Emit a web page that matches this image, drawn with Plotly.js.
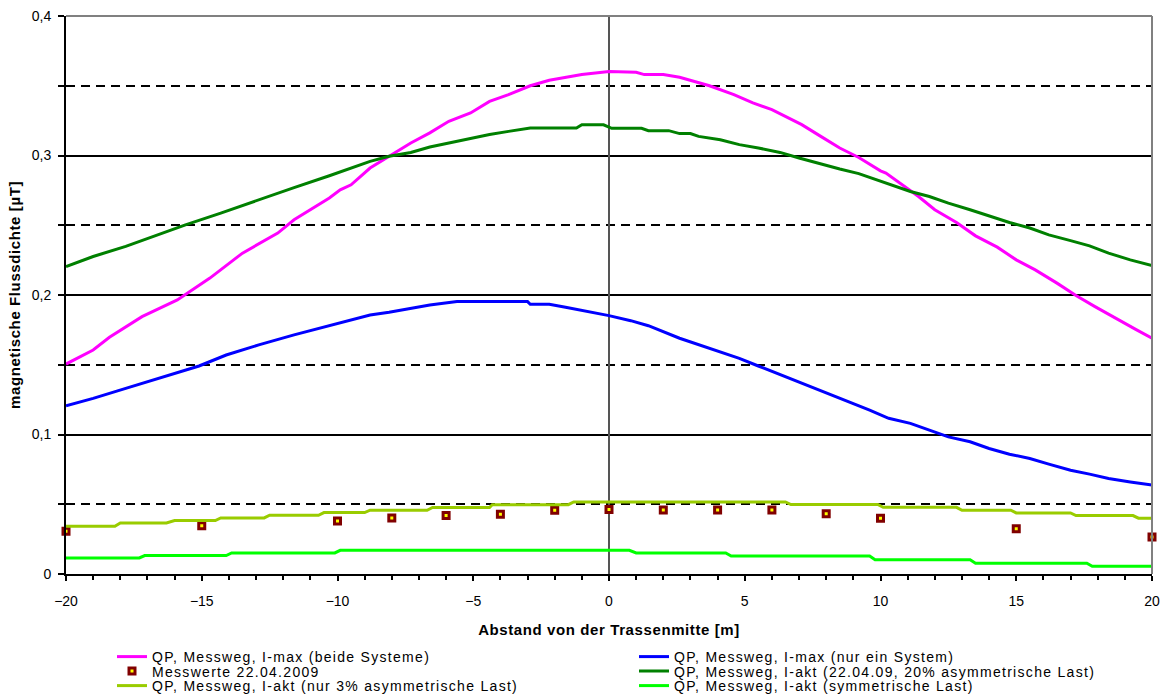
<!DOCTYPE html>
<html><head><meta charset="utf-8">
<script src="https://cdn.plot.ly/plotly-3.0.1.min.js"></script>
<style>
html,body{margin:0;padding:0;background:#fff;}
#chart{width:1170px;height:698px;}
</style></head><body><div id="chart"></div>
<script>
// Magenta: QP, Messweg, I-max (beide Systeme)
var xMagenta = [-20,-19,-18.4,-17.2,-15.9,-14.7,-13.5,-12.2,-11.6,-11,-10.3,-9.9,-9.5,-8.8,-8.1,-7.3,-6.6,-5.9,-5.1,-4.4,-3.7,-2.9,-2.2,-1.5,-1,0,1,1.3,2,2.6,3,3.7,4.6,5.3,6,6.7,7.1,7.8,8.5,9.2,9.6,10,10.2,10.8,11.4,12,12.8,13.5,14.3,15,15.7,16.5,17.2,17.9,18.7,19.4,20];
var yMagenta = [0.1505,0.1606,0.1697,0.1845,0.1965,0.2121,0.230,0.2444,0.2539,0.2611,0.2695,0.2754,0.279,0.291,0.2994,0.309,0.3162,0.3245,0.3305,0.3388,0.3437,0.350,0.3539,0.3563,0.358,0.3602,0.3597,0.358,0.358,0.3561,0.354,0.350,0.3437,0.3377,0.3329,0.3257,0.3221,0.3137,0.3054,0.2986,0.294,0.289,0.2874,0.279,0.2706,0.2611,0.252,0.2424,0.2343,0.2252,0.218,0.2085,0.1996,0.1917,0.1833,0.1754,0.169];

// Blue: QP, Messweg, I-max (nur ein System)
var xBlue = [-20,-19,-17.8,-16.5,-15.1,-14.1,-12.9,-11.6,-10.3,-9.5,-8.8,-8.1,-7.3,-6.6,-5.6,-3.0,-2.9,-2.2,-1.6,-0.6,0,0.8,1.45,2.6,3.7,4.8,5.5,6.5,7.6,8.5,9.6,10.3,11.1,11.8,12.5,13.3,14,14.75,15.5,16.2,17,17.7,18.4,19.2,20];
var yBlue = [0.1206,0.1259,0.1331,0.141,0.1491,0.157,0.1642,0.1714,0.178,0.1816,0.1857,0.1876,0.1905,0.1929,0.1953,0.1953,0.1934,0.1934,0.1912,0.1876,0.1852,0.1816,0.178,0.169,0.1618,0.1546,0.1491,0.1414,0.1331,0.126,0.1175,0.1116,0.108,0.1032,0.0983,0.0948,0.09,0.0859,0.0828,0.0788,0.0744,0.0716,0.0685,0.066,0.0637];

// Measured values 22.04.2009
var xMess = [-20,-15,-10,-8,-6,-4,-2,0,2,4,6,8,10,15,20];
var yMess = [0.0307,0.0345,0.038,0.0402,0.0419,0.0429,0.0457,0.0462,0.0459,0.0459,0.0459,0.0432,0.040,0.0325,0.0265];

// Dark green: QP, Messweg, I-akt (22.04.09, 20% asymmetrische Last)
var xDkGreen = [-20,-19,-17.8,-16.9,-15.6,-14.3,-12.9,-11.6,-10.3,-9.5,-8.8,-8.1,-7.3,-6.6,-5.9,-5.1,-4.4,-3.7,-2.9,-1.2,-1.0,-0.2,0.1,1.2,1.45,2.2,2.6,3.0,3.3,4.1,4.8,5.5,6.3,7.0,7.8,8.5,9.2,10,10.3,11.1,11.8,12.5,13.3,14,14.75,15.5,16.2,17,17.7,18.4,19.2,20];
var yDkGreen = [0.2204,0.2276,0.2348,0.2412,0.2503,0.2587,0.2683,0.277,0.2855,0.291,0.2958,0.2994,0.3022,0.3061,0.309,0.3118,0.315,0.3173,0.3197,0.3197,0.322,0.322,0.3195,0.3195,0.3178,0.3178,0.3157,0.3157,0.3137,0.3113,0.3078,0.3054,0.3022,0.2982,0.2939,0.2903,0.287,0.2814,0.2795,0.2742,0.2706,0.2659,0.2611,0.2568,0.252,0.248,0.2431,0.239,0.2352,0.23,0.2252,0.2211];

// Yellow-green: QP, Messweg, I-akt (nur 3% asymmetrische Last)
var xYellow = [-20,-18.2,-18.0,-16.3,-16.0,-14.5,-14.3,-12.7,-12.5,-10.7,-10.5,-9.0,-8.8,-6.7,-6.5,-4.4,-4.3,-1.5,-1.3,6.5,6.7,9.9,10.1,12.8,13.0,14.8,15.0,17.0,17.2,19.3,19.5,20];
var yYellow = [0.0342,0.0342,0.0366,0.0366,0.0383,0.0383,0.0402,0.0402,0.0421,0.0421,0.044,0.044,0.0457,0.0457,0.0477,0.0477,0.0497,0.0497,0.0517,0.0517,0.0498,0.0498,0.0478,0.0478,0.0457,0.0457,0.0438,0.0438,0.0419,0.0419,0.040,0.040];

// Light green: QP, Messweg, I-akt (symmetrische Last)
var xLtGreen = [-20,-17.3,-17.1,-14.1,-13.9,-10.1,-9.9,0.75,1.0,4.3,4.5,9.6,9.8,13.3,13.5,17.6,17.8,20];
var yLtGreen = [0.0115,0.0115,0.0132,0.0132,0.0151,0.0151,0.017,0.017,0.0151,0.0151,0.0129,0.0129,0.0102,0.0102,0.0077,0.0077,0.0055,0.0055];

var names = [
  'QP, Messweg, I-max (beide Systeme)',
  'QP, Messweg, I-max (nur ein System)',
  'Messwerte 22.04.2009',
  'QP, Messweg, I-akt (22.04.09, 20% asymmetrische Last)',
  'QP, Messweg, I-akt (nur 3% asymmetrische Last)',
  'QP, Messweg, I-akt (symmetrische Last)'
];
var xTitle = 'Abstand von der Trassenmitte [m]';
var yTitle = 'magnetische Flussdichte [µT]';

var FONT = '"Liberation Sans", Arial, sans-serif';

var traces = [
  {x:xMagenta, y:yMagenta, name:names[0], mode:'lines', line:{color:'#ff00ff', width:3}, legend:'legend', legendwidth:477},
  {x:xBlue, y:yBlue, name:names[1], mode:'lines', line:{color:'#0000ff', width:3}, legend:'legend', legendwidth:440},
  {x:xMess, y:yMess, name:names[2], mode:'markers', marker:{symbol:'square', size:6, color:'#ffff00', line:{color:'#800000', width:3}}, cliponaxis:false, legend:'legend2', legendwidth:477},
  {x:xDkGreen, y:yDkGreen, name:names[3], mode:'lines', line:{color:'#008000', width:3}, legend:'legend2', legendwidth:440},
  {x:xYellow, y:yYellow, name:names[4], mode:'lines', line:{color:'#99cc00', width:3}, legend:'legend3', legendwidth:477},
  {x:xLtGreen, y:yLtGreen, name:names[5], mode:'lines', line:{color:'#00ff00', width:3}, legend:'legend3', legendwidth:440}
];

function leg(topPx){
  return {orientation:'h', xref:'container', yref:'container', x:112/1170, xanchor:'left',
    y:1-topPx/698, yanchor:'top', itemwidth:30, font:{family:FONT, size:14, color:'#000'},
    bgcolor:'rgba(0,0,0,0)', borderwidth:0, traceorder:'normal'};
}

var layout = {
  width:1170, height:698,
  margin:{l:66, r:17.5, t:16, b:124.3, pad:0},
  paper_bgcolor:'#ffffff', plot_bgcolor:'#ffffff',
  separators:',.',
  font:{family:FONT, size:14, color:'#000'},
  showlegend:true,
  xaxis:{range:[-20,20], tick0:0, dtick:5, ticks:'outside', ticklen:5, tickwidth:2, tickcolor:'#000',
    showline:true, linecolor:'#000', linewidth:2, showgrid:false,
    zeroline:true, zerolinecolor:'#555555', zerolinewidth:2,
    minor:{dtick:1, ticks:'outside', ticklen:4, tickwidth:2, tickcolor:'#000', showgrid:false},
    ticklabelstandoff:8, tickfont:{family:FONT, size:14, color:'#000'},
    title:{text:'<b>' + xTitle + '</b>', font:{family:FONT, size:15, color:'#000'}, standoff:17},
    fixedrange:true, automargin:false},
  yaxis:{range:[0,0.4], tick0:0, dtick:0.1, ticks:'outside', ticklen:6, tickwidth:2, tickcolor:'#000',
    showline:true, linecolor:'#000', linewidth:2,
    showgrid:true, gridcolor:'#000', gridwidth:2, zeroline:false,
    minor:{dtick:0.05, ticks:'outside', ticklen:6, tickwidth:2, tickcolor:'#000', showgrid:true, gridcolor:'#000', gridwidth:2, griddash:'9px,6px'},
    ticklabelstandoff:4, tickfont:{family:FONT, size:14, color:'#000'},
    title:{text:'<b>' + yTitle + '</b>', font:{family:FONT, size:15, color:'#000'}, standoff:7},
    fixedrange:true, automargin:false},
  xaxis2:{overlaying:'x', anchor:'y', side:'bottom', range:[-20,20], tick0:0, dtick:5, ticks:'inside', ticklen:5, tickwidth:2, tickcolor:'#000',
    showticklabels:false, showgrid:false, zeroline:false, showline:false, fixedrange:true},
  yaxis2:{overlaying:'y', anchor:'x', side:'left', range:[0,0.4], tick0:0, dtick:0.1, ticks:'inside', ticklen:6, tickwidth:2, tickcolor:'#000',
    showticklabels:false, showgrid:false, zeroline:false, showline:false, fixedrange:true},
  legend:leg(641), legend2:leg(655.5), legend3:leg(670),
  shapes:[
    {type:'line', xref:'paper', yref:'paper', x0:0, x1:1, y0:1, y1:1, line:{color:'#808080', width:2}, layer:'above'},
    {type:'line', xref:'paper', yref:'paper', x0:1, x1:1, y0:0, y1:1, line:{color:'#808080', width:2}, layer:'above'}
  ]
};

var gd = document.getElementById('chart');
function spaceText(){
  var all = gd.querySelectorAll('text');
  for (var i = 0; i < all.length; i++) {
    var t = all[i], s = (t.textContent || '').trim(), want = null;
    if (names.indexOf(s) >= 0) want = '1.3px';
    else if (s === xTitle || s === yTitle) want = '0.6px';
    if (want && t.style.letterSpacing !== want) t.style.letterSpacing = want;
  }
}
Plotly.newPlot(gd, traces, layout, {displayModeBar:false}).then(function(){
  spaceText();
  gd.on('plotly_afterplot', spaceText);
  new MutationObserver(spaceText).observe(gd, {childList:true, subtree:true});
  setTimeout(spaceText, 50);
  setTimeout(spaceText, 300);
});
</script></body></html>
